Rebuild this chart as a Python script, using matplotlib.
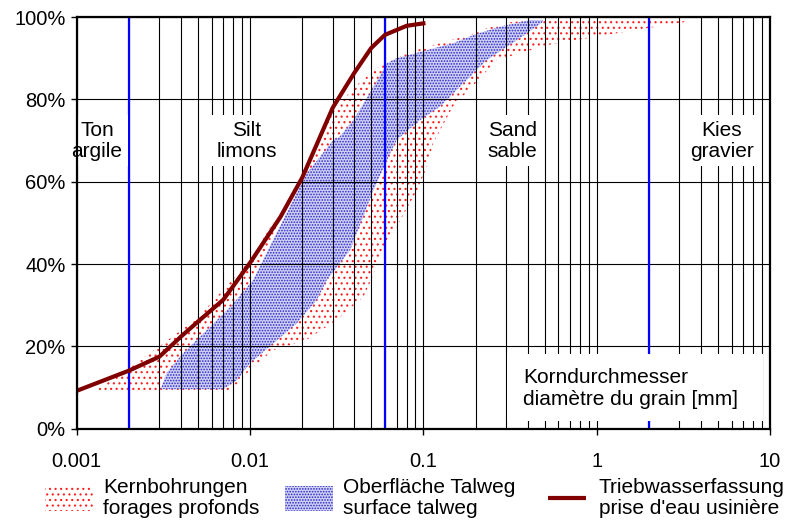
import numpy as np
import matplotlib
matplotlib.use("Agg")
import matplotlib.pyplot as plt
from matplotlib.patches import Polygon, Rectangle, Patch
from matplotlib.lines import Line2D
from matplotlib.legend_handler import HandlerBase
from matplotlib.ticker import LogLocator, FixedLocator, NullFormatter

plt.rcParams['font.family'] = ['Liberation Sans', 'DejaVu Sans']
plt.rcParams['hatch.linewidth'] = 0.8

# ---- data (grain size in mm, passing in %) ----
curve_x = [0.001, 0.002, 0.003, 0.004, 0.005, 0.007, 0.01, 0.015, 0.02,
           0.03, 0.04, 0.05, 0.06, 0.08, 0.1]
curve_pct = [9.2, 14.1, 17.5, 22.4, 26.0, 31.3, 40.3, 51.5, 61.0,
             78.0, 86.5, 92.5, 95.7, 97.9, 98.5]

# Kernbohrungen band: fine edge and coarse edge
red_fine_x = [0.0013, 0.002, 0.003, 0.005, 0.01, 0.02, 0.03, 0.04, 0.05,
              0.056, 0.067, 0.08, 0.105, 0.186, 0.232, 0.33, 0.49, 3.3]
red_fine_pct = [9.4, 14.8, 20.0, 27.0, 41.0, 61.5, 77.0, 83.0, 86.5,
                88.0, 89.6, 91.2, 92.8, 95.7, 97.3, 98.9, 99.3, 99.5]
red_coarse_x = [0.0013, 0.0075, 0.0085, 0.01, 0.0136, 0.0212, 0.0316, 0.045,
                0.05, 0.056, 0.07, 0.092, 0.105, 0.114, 0.148, 0.2, 0.265,
                0.36, 0.515, 1.0, 3.3]
red_coarse_pct = [9.4, 9.4, 11.0, 14.3, 19.1, 21.6, 26.4, 32.0, 36.1, 41.8,
                  49.0, 58.0, 63.7, 69.4, 78.3, 84.0, 89.6, 91.2, 93.2, 95.3,
                  98.9]

# Oberfläche Talweg band
blue_fine_x = [0.00305, 0.0033, 0.0041, 0.0054, 0.0077, 0.0104, 0.0136, 0.017,
               0.0212, 0.0303, 0.0329, 0.0395, 0.0516, 0.0616, 0.07, 0.105,
               0.149, 0.195, 0.277, 0.41, 0.49]
blue_fine_pct = [9.6, 13.5, 18.3, 23.2, 29.6, 36.1, 45.9, 54.0, 62.0, 70.2,
                 71.0, 75.0, 83.1, 88.8, 90.0, 92.0, 93.7, 95.7, 97.7, 99.3,
                 99.3]
blue_coarse_x = [0.00305, 0.007, 0.0084, 0.01, 0.0136, 0.0186, 0.0243, 0.0277,
                 0.0378, 0.0516, 0.0642, 0.0703, 0.0958, 0.125, 0.149, 0.195,
                 0.232, 0.303, 0.396, 0.49]
blue_coarse_pct = [9.6, 9.6, 11.8, 15.9, 20.7, 25.6, 31.3, 36.1, 43.4, 58.0,
                   66.9, 70.2, 75.0, 78.3, 81.5, 86.4, 89.6, 92.8, 96.1, 98.9]

class_limits = [0.002, 0.06, 2]
class_labels = ["Ton\nargile", "Silt\nlimons", "Sand\nsable", "Kies\ngravier"]
class_label_x = [0.00131, 0.0096, 0.325, 5.26]

y_ticks = [0, 20, 40, 60, 80, 100]
x_ticks = [0.001, 0.01, 0.1, 1, 10]
x_ticklabels = ["0.001", "0.01", "0.1", "1", "10"]

legend_labels = ["Kernbohrungen\nforages profonds",
                 "Oberfläche Talweg\nsurface talweg",
                 "Triebwasserfassung\nprise d'eau usinière"]

RED = "#ff2020"
BLUE_DOT = "#2828c8"
BLUE_FACE = "#cfcff4"
CURVE = "#800000"


class ShortLine(HandlerBase):
    # legend line is shorter than the hatched boxes
    def create_artists(self, legend, orig_handle, xdescent, ydescent,
                       width, height, fontsize, trans):
        y = height / 2 - ydescent
        ln = Line2D([0.16 * width - xdescent, 0.95 * width - xdescent], [y, y],
                    color=orig_handle.get_color(),
                    lw=orig_handle.get_linewidth(), solid_capstyle="butt")
        ln.set_transform(trans)
        return [ln]


# ---- figure ----
fig = plt.figure(figsize=(7.9, 5.24), dpi=100)
ax = fig.add_axes([0.0971, 0.1819, 0.8776, 0.7853])
ax.set_xscale("log")
ax.set_xlim(0.001, 10)
ax.set_ylim(0, 100)

red_poly = np.column_stack([red_fine_x + red_coarse_x[::-1],
                            red_fine_pct + red_coarse_pct[::-1]])
ax.add_patch(Polygon(red_poly, closed=True, facecolor="none",
                     edgecolor=RED, hatch="...", lw=0, zorder=1))

blue_poly = np.column_stack([blue_fine_x + blue_coarse_x[::-1],
                             blue_fine_pct + blue_coarse_pct[::-1]])
ax.add_patch(Polygon(blue_poly, closed=True, facecolor=BLUE_FACE,
                     edgecolor=BLUE_DOT, hatch="......", lw=0, zorder=1.2))

# grid: every log subdivision + 20 % lines
ax.xaxis.set_major_locator(FixedLocator(x_ticks))
ax.xaxis.set_minor_locator(LogLocator(base=10, subs=np.arange(2, 10)))
ax.xaxis.set_minor_formatter(NullFormatter())
ax.set_xticklabels(x_ticklabels)
ax.set_yticks(y_ticks)
ax.set_yticklabels([f"{v}%" for v in y_ticks])
ax.grid(which="both", axis="x", color="black", lw=0.8)
ax.grid(which="major", axis="y", color="black", lw=0.8)
ax.set_axisbelow(False)

ax.tick_params(which="major", direction="out", length=4, width=1,
               labelsize=14.5)
ax.tick_params(axis="x", which="major", pad=12.5)
ax.tick_params(axis="y", which="major", pad=4)
ax.tick_params(which="minor", length=0)
for s in ax.spines.values():
    s.set_linewidth(1.6)
    s.set_zorder(6)

for lim in class_limits:
    ax.axvline(lim, color="#0000ff", lw=1.6, zorder=3)

ax.plot(curve_x, curve_pct, color=CURVE, lw=3, zorder=4,
        solid_joinstyle="round")

for lx, lab in zip(class_label_x, class_labels):
    ax.text(lx, 70, lab, ha="center", va="center", fontsize=15,
            linespacing=1.15, zorder=5,
            bbox=dict(facecolor="white", edgecolor="none", pad=4))

ax.add_patch(Rectangle((0.62, 0.018), 0.37, 0.164, transform=ax.transAxes,
                       facecolor="white", edgecolor="none", zorder=5))
ax.text(0.644, 0.0965, "Korndurchmesser\ndiamètre du grain [mm]",
        transform=ax.transAxes, ha="left", va="center", fontsize=15,
        zorder=5.5)

handles = [Patch(facecolor="none", edgecolor=RED, hatch="...", lw=0),
           Patch(facecolor=BLUE_FACE, edgecolor=BLUE_DOT, hatch="......", lw=0),
           Line2D([], [], color=CURVE, lw=3)]
leg = fig.legend(handles, legend_labels, loc="center",
                 bbox_to_anchor=(0.525, 0.05), ncol=3, frameon=False,
                 fontsize=15, handlelength=2.3, handleheight=1.45,
                 handletextpad=0.5, columnspacing=1.2,
                 handler_map={Line2D: ShortLine()})
for t in leg.get_texts():
    t.set_linespacing(1.1)

fig.savefig("out.png", dpi=100)
